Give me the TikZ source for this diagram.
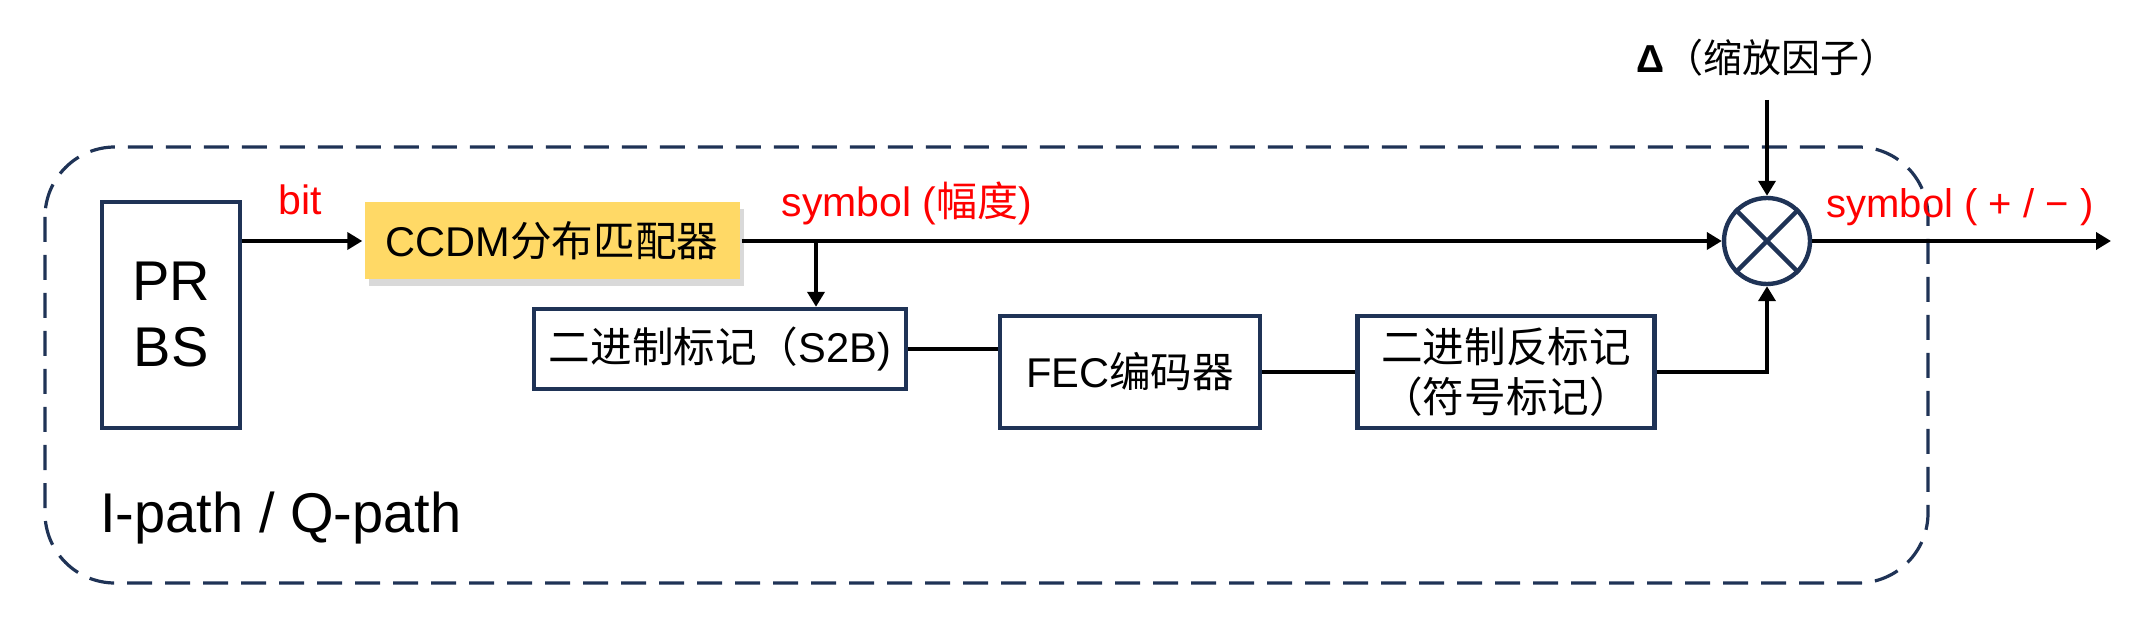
\documentclass[tikz,border=0pt]{standalone}
\usepackage{fontspec}
\setmainfont{Liberation Sans}
\newfontfamily\cjk{Noto Sans CJK SC}
\usetikzlibrary{arrows.meta,shadows}
\definecolor{navy}{HTML}{1F3356}
\definecolor{gold}{HTML}{FFD966}
\begin{document}
\begin{tikzpicture}[x=0.5pt,y=-0.5pt,
  box/.style={draw=navy,line width=2.2pt,fill=white,inner sep=0pt,align=center,font=\fontsize{20.8}{25}\selectfont},
  lbl/.style={text=red,font=\fontsize{20.5}{24}\selectfont,inner sep=0pt},
  conn/.style={line width=2.4pt,black},
  arr/.style={conn,-{Triangle[length=7.5pt,width=8.5pt]}}]
\useasboundingbox (0,0) rectangle (2152,630);
% dashed frame
\draw[navy,line width=1.6pt,dash pattern=on 12.5pt off 6.5pt,rounded corners=35pt] (45,147) rectangle (1928,583);
\node[anchor=base west,inner sep=0pt,font=\fontsize{28}{33}\selectfont] (ipath) at (100,532) {I-path / Q-path};
% blocks
\node[box,minimum width=69pt,minimum height=113pt,font=\fontsize{28}{33}\selectfont] (prbs) at (171,315) {PR\\BS};
\node[box,draw=none,fill=gold,minimum width=187.5pt,minimum height=38.5pt,
  drop shadow={shadow xshift=2pt,shadow yshift=-3.5pt,opacity=0.3}] (ccdm) at (552,241) {CCDM{\cjk 分布匹配器}};
\node[box,minimum width=186pt,minimum height=40pt] (s2b) at (720,349) {{\cjk 二进制标记（}S2B)};
\node[box,minimum width=130pt,minimum height=56pt] (fec) at (1130,372) {FEC{\cjk 编码器}};
\node[box,minimum width=148.5pt,minimum height=56pt] (inv) at (1506,372) {{\cjk 二进制反标记}\\{\cjk （符号标记）}};
\node[circle,draw=navy,line width=2.2pt,minimum size=43pt,inner sep=0pt] (m) at (1767,241) {};
\draw[navy,line width=2.2pt] (m.north east) -- (m.south west) (m.north west) -- (m.south east);
% labels
\node[lbl] (bit) at (300,200) {bit};
\node[lbl] (sym1) at (907,203) {symbol ({\cjk 幅度})};
\node[lbl,font=\fontsize{20}{24}\selectfont] (sym2) at (1960,207) {symbol ( + / − )};
\node[inner sep=0pt,font=\fontsize{19.5}{24}\selectfont] (delta) at (1767,58) {\textbf{Δ}{\cjk （缩放因子）}};
% connectors
\coordinate (br) at (816,241);
\coordinate (out) at (2111,241);
\draw[arr] (prbs.east |- ccdm.west) -- (ccdm.west);
\draw[arr] (ccdm.east) -- (m.west);
\draw[arr] (br) -- (br |- s2b.north);
\draw[conn] (s2b.east) -- (s2b.east -| fec.west);
\draw[conn] (fec.east) -- (inv.west);
\draw[arr] (inv.east) -| (m.south);
\draw[arr,line width=1.8pt] (delta) ++(0,42) -- (m.north);
\draw[arr] (m.east) -- (out);
\end{tikzpicture}
\end{document}
